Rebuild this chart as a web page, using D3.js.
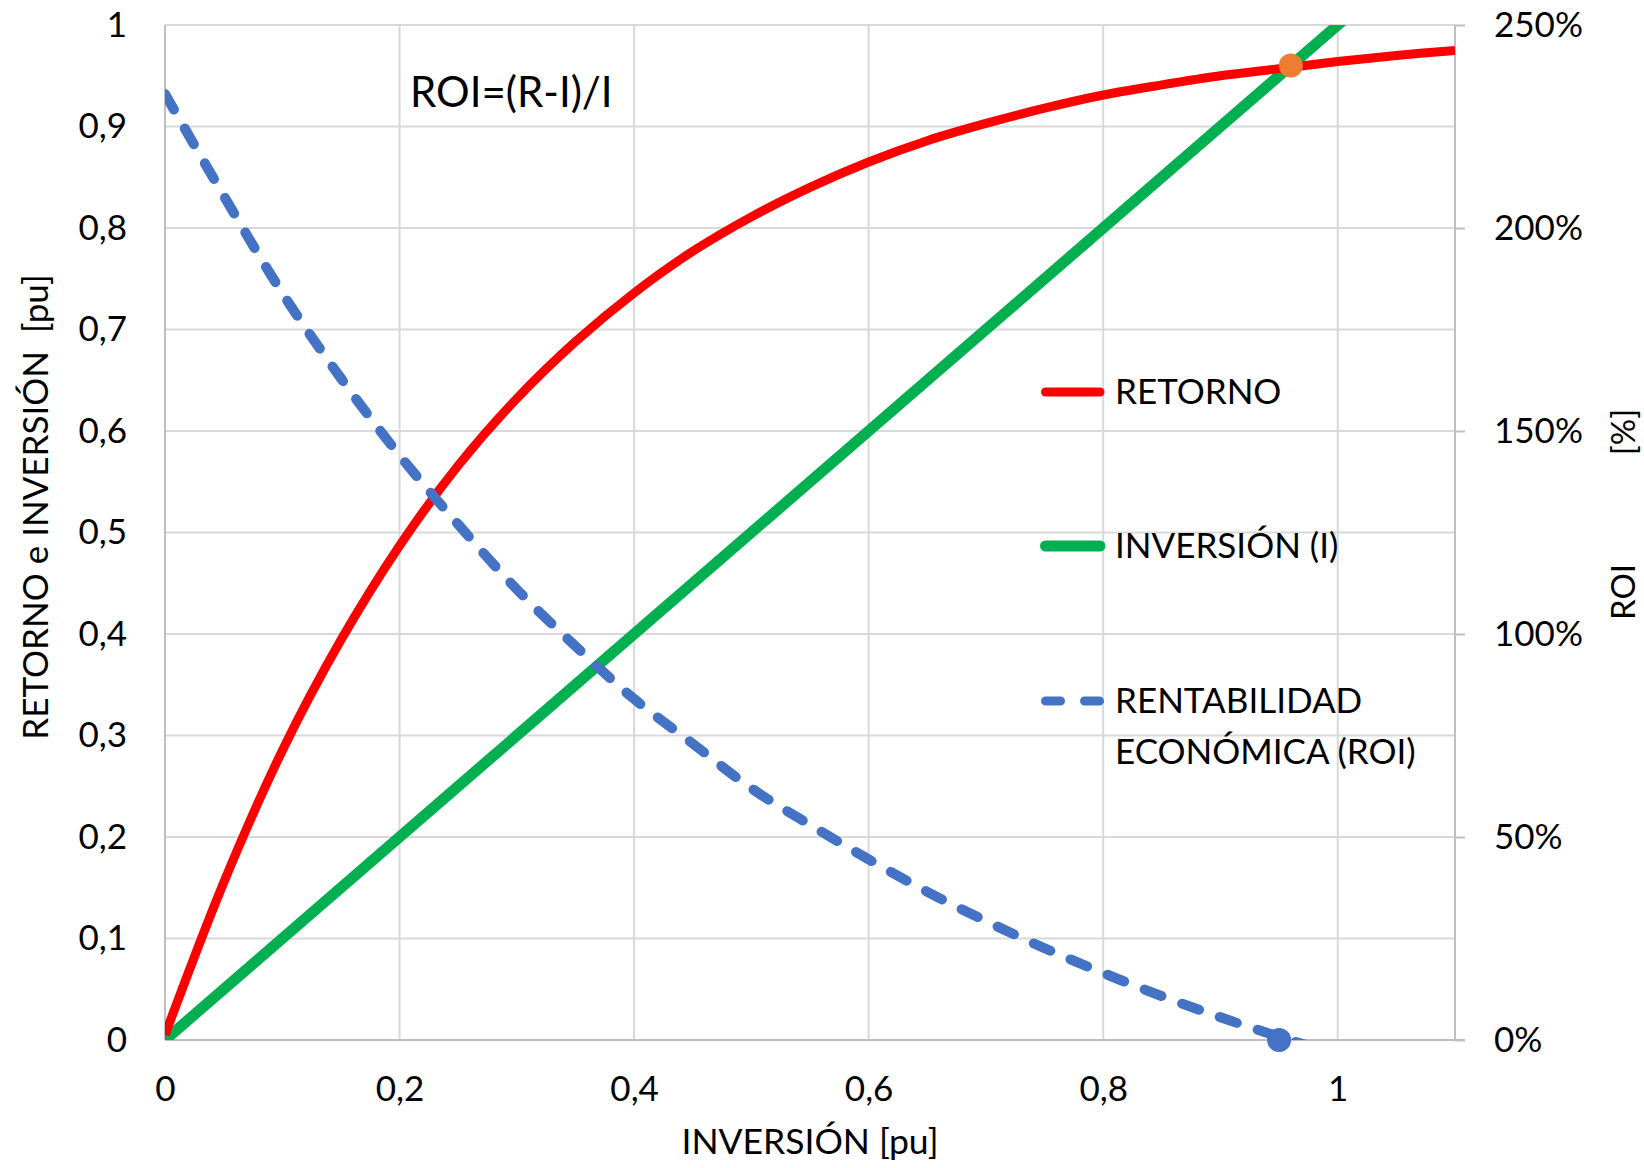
<!DOCTYPE html>
<html>
<head>
<meta charset="utf-8">
<script src="https://cdn.jsdelivr.net/npm/d3@7"></script>
<style>
  html, body { margin: 0; padding: 0; background: #fff; }
  svg { display: block; font-family: Lato, "Open Sans", sans-serif; }
</style>
</head>
<body>
<div id="chart"></div>
<script>
// Values
const inversionPts = [0, 0.05, 0.1, 0.15, 0.2, 0.25, 0.3, 0.35, 0.4, 0.45, 0.5, 0.55,
                      0.6, 0.65, 0.7, 0.75, 0.8, 0.85, 0.9, 0.95, 1.0, 1.05, 1.1];
const retorno = [0.005, 0.155, 0.285, 0.394, 0.487, 0.566, 0.632, 0.688, 0.736, 0.777, 0.811, 0.840,
                 0.865, 0.886, 0.903, 0.918, 0.931, 0.941, 0.950, 0.957, 0.964, 0.970, 0.975];
const inversionLine = [[0, 0], [1.1, 1.1]];
const roiPts = [0, 0.05, 0.1, 0.15, 0.2, 0.25, 0.3, 0.35, 0.4, 0.45, 0.5, 0.55,
                0.6, 0.65, 0.7, 0.75, 0.8, 0.85, 0.9, 0.95, 1.0];
const roi = [233, 208, 184, 163, 144, 127, 111, 97, 84, 73, 62, 53,
             44.5, 36.5, 29.3, 22.6, 16.5, 10.8, 5.6, 0.8, -3.6];
const puntoEquilibrio = { x: 0.96, y: 0.96 };
const puntoRoiCero = { x: 0.95, y: 0 };
const leftTicks = d3.ticks(0, 1, 10);
const rightTicks = [0, 50, 100, 150, 200, 250];
const bottomTicks = d3.ticks(0, 1, 5);
const legendItems = [
  { label: ["RETORNO"], color: "#FF0000", dash: null, width: 9 },
  { label: ["INVERSIÓN (I)"], color: "#00B050", dash: null, width: 11 },
  { label: ["RENTABILIDAD", "ECONÓMICA (ROI)"], color: "#4472C4", dash: "15,24", width: 9 }
];

const width = 1644, height = 1168;
const m = { left: 165, right: 1455, top: 25, bottom: 1040 };

const svg = d3.select('#chart').append('svg')
  .attr('width', width)
  .attr('height', height);

const x = d3.scaleLinear().domain([0, 1.1]).range([m.left, m.right]);
const y = d3.scaleLinear().domain([0, 1]).range([m.bottom, m.top]);
const y2 = d3.scaleLinear().domain([0, 250]).range([m.bottom, m.top]);

const es = d3.formatLocale({ decimal: ",", thousands: ".", grouping: [3], currency: ["", "€"] });
const fmt = es.format("~g");

// grid
const grid = svg.append('g');
grid.selectAll('.hg').data(leftTicks).join('line')
  .attr('x1', m.left).attr('x2', m.right)
  .attr('y1', d => y(d)).attr('y2', d => y(d))
  .attr('stroke', '#d9d9d9').attr('stroke-width', 2);
grid.selectAll('.vg').data(bottomTicks.slice(1)).join('line')
  .attr('x1', d => x(d)).attr('x2', d => x(d))
  .attr('y1', m.top).attr('y2', m.bottom)
  .attr('stroke', '#d9d9d9').attr('stroke-width', 2);

// axis lines
svg.append('line').attr('x1', m.left).attr('x2', m.left).attr('y1', m.top).attr('y2', m.bottom)
  .attr('stroke', '#bfbfbf').attr('stroke-width', 2);
svg.append('line').attr('x1', m.right).attr('x2', m.right).attr('y1', m.top).attr('y2', m.bottom)
  .attr('stroke', '#bfbfbf').attr('stroke-width', 2);
svg.append('line').attr('x1', m.left).attr('x2', m.right + 10).attr('y1', m.bottom).attr('y2', m.bottom)
  .attr('stroke', '#bfbfbf').attr('stroke-width', 2);

// axes
const axL = svg.append('g').attr('transform', `translate(${m.left},0)`)
  .call(d3.axisLeft(y).tickValues(leftTicks).tickFormat(fmt).tickSize(0).tickPadding(38));
const axR = svg.append('g').attr('transform', `translate(${m.right},0)`)
  .call(d3.axisRight(y2).tickValues(rightTicks).tickFormat(d => d + "%").tickSize(10).tickPadding(29));
const axB = svg.append('g').attr('transform', `translate(0,${m.bottom})`)
  .call(d3.axisBottom(x).tickValues(bottomTicks).tickFormat(fmt).tickSize(0).tickPadding(36));
[axL, axR, axB].forEach(a => {
  a.select('.domain').remove();
  a.selectAll('text').attr('font-size', 35).attr('fill', '#000').attr('font-family', 'Lato');
});
axR.selectAll('line').attr('stroke', '#bfbfbf').attr('stroke-width', 2);

// clip
svg.append('clipPath').attr('id', 'plot')
  .append('rect').attr('x', m.left).attr('y', m.top)
  .attr('width', m.right - m.left).attr('height', m.bottom - m.top);
const plot = svg.append('g').attr('clip-path', 'url(#plot)');

const lineY = d3.line().x(d => x(d[0])).y(d => y(d[1])).curve(d3.curveCatmullRom);
const lineY2 = d3.line().x(d => x(d[0])).y(d => y2(d[1])).curve(d3.curveCatmullRom);

plot.append('path').datum(inversionLine).attr('d', lineY)
  .attr('fill', 'none').attr('stroke', '#00B050').attr('stroke-width', 11);
plot.append('path').datum(inversionPts.map((v, i) => [v, retorno[i]])).attr('d', lineY)
  .attr('fill', 'none').attr('stroke', '#FF0000').attr('stroke-width', 9);
plot.append('path').datum(roiPts.map((v, i) => [v, roi[i]])).attr('d', lineY2)
  .attr('fill', 'none').attr('stroke', '#4472C4').attr('stroke-width', 10)
  .attr('stroke-dasharray', '18,22').attr('stroke-linecap', 'round');

svg.append('circle').attr('cx', x(puntoEquilibrio.x)).attr('cy', y(puntoEquilibrio.y))
  .attr('r', 12).attr('fill', '#ED7D31');
svg.append('circle').attr('cx', x(puntoRoiCero.x)).attr('cy', y2(puntoRoiCero.y))
  .attr('r', 12).attr('fill', '#4472C4');

// formula label
svg.append('text').attr('x', 410).attr('y', 92).attr('dy', '0.35em')
  .attr('font-size', 42).text('ROI=(R-I)/I');

// legend
const legY = [392, 546, 701];
const leg = svg.append('g');
legendItems.forEach((it, i) => {
  leg.append('line').attr('x1', 1045.5).attr('x2', 1100).attr('y1', legY[i]).attr('y2', legY[i])
    .attr('stroke', it.color).attr('stroke-width', it.width).attr('stroke-linecap', 'round')
    .attr('stroke-dasharray', it.dash);
  it.label.forEach((t, j) => {
    leg.append('text').attr('x', 1115).attr('y', legY[i] + j * 51).attr('dy', '0.35em')
      .attr('font-size', 35).text(t);
  });
});

// axis titles
svg.append('text').attr('transform', `translate(36,507) rotate(-90)`)
  .attr('text-anchor', 'middle').attr('dy', '0.35em').attr('font-size', 35)
  .style('white-space', 'pre').text('RETORNO e INVERSIÓN  [pu]');
svg.append('text').attr('transform', `translate(810,1142)`)
  .attr('text-anchor', 'middle').attr('dy', '0.35em').attr('font-size', 35.5)
  .text('INVERSIÓN [pu]');
svg.append('text').attr('transform', `translate(1623,592) rotate(-90)`)
  .attr('text-anchor', 'middle').attr('dy', '0.35em').attr('font-size', 33)
  .text('ROI');
svg.append('text').attr('transform', `translate(1623,432) rotate(-90)`)
  .attr('text-anchor', 'middle').attr('dy', '0.35em').attr('font-size', 33)
  .text('[%]');
</script>
</body>
</html>
